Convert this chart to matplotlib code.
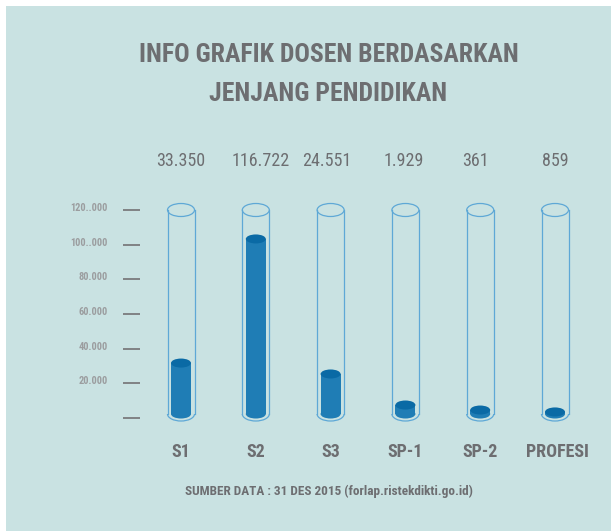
import matplotlib
matplotlib.use("Agg")
import matplotlib.pyplot as plt
from matplotlib.patches import Rectangle, Ellipse, Arc
from matplotlib.transforms import blended_transform_factory

# ---- data ----
categories = ["S1", "S2", "S3", "SP-1", "SP-2", "PROFESI"]
values = [33350, 116722, 24551, 1929, 361, 859]
# fill level of each tube as drawn in the picture
fill_levels = [31700, 103300, 25400, 7500, 4600, 3500]
tick_values = [0, 20000, 40000, 60000, 80000, 100000, 120000]
tick_labels = ["", "20.000", "40.000", "60.000", "80.000", "100..000", "120..000"]
title_lines = ["INFO GRAFIK DOSEN BERDASARKAN", "JENJANG PENDIDIKAN"]
source_text = "SUMBER DATA : 31 DES 2015 (forlap.ristekdikti.go.id)"

# ---- style ----
BG = "#c9e2e2"
GRAY = "#6d6e71"
TICKGRAY = "#9b9d9f"
TUBE = "#5ea8d6"
BODY = "#1f7db5"
TOP = "#0a6aa5"
FONT = ["Roboto Condensed", "DejaVu Sans"]
STRETCH = "condensed"

W, H = 611, 531
fig = plt.figure(figsize=(W / 100, H / 100), dpi=100)
fig.patch.set_facecolor("white")
fig.add_artist(Rectangle((6 / W, 0), 1 - 6 / W, 1 - 6 / H, transform=fig.transFigure,
                         facecolor=BG, edgecolor="none", zorder=0))

ppu = 208 / 120000.0
ymin, ymax = -15000, 135000
ybot_px = 418 + (0 - ymin) * ppu
ytop_px = 418 - ymax * ppu
xmin, xmax = -1.6, 5.75
xspace = 74.8
xl_px = 181 + xmin * xspace
xr_px = 181 + xmax * xspace
ax = fig.add_axes([xl_px / W, 1 - ybot_px / H, (xr_px - xl_px) / W, (ybot_px - ytop_px) / H])
ax.set_xlim(xmin, xmax)
ax.set_ylim(ymin, ymax)
ax.axis("off")
ax.patch.set_alpha(0)

def px_x(p):
    return p / xspace

def px_y(p):
    return p / ppu

tube_w = px_x(27)
tube_top = tick_values[-1]
tube_ell_h = px_y(13)
tube_bot = px_y(4)
tube_bot_h = px_y(14)
liq_w = px_x(20)
liq_top_h = px_y(9)
liq_bot = px_y(4)
liq_bot_h = px_y(9)

for i, (cat, lvl) in enumerate(zip(categories, fill_levels)):
    ax.plot([i - tube_w / 2, i - tube_w / 2], [tube_top, tube_bot], color=TUBE, lw=0.9, zorder=3)
    ax.plot([i + tube_w / 2, i + tube_w / 2], [tube_top, tube_bot], color=TUBE, lw=0.9, zorder=3)
    ax.add_patch(Arc((i, tube_bot), tube_w, tube_bot_h, theta1=180, theta2=360,
                     color=TUBE, lw=0.9, zorder=3))
    ax.add_patch(Ellipse((i, tube_top), tube_w, tube_ell_h, facecolor="none",
                         edgecolor=TUBE, lw=0.9, zorder=3))
    # liquid
    ax.add_patch(Rectangle((i - liq_w / 2, liq_bot), liq_w, lvl - liq_bot,
                           facecolor=BODY, edgecolor="none", zorder=2))
    ax.add_patch(Ellipse((i, liq_bot), liq_w, liq_bot_h, facecolor=BODY,
                         edgecolor="none", zorder=2))
    ax.add_patch(Ellipse((i, lvl), liq_w, liq_top_h, facecolor=TOP,
                         edgecolor="none", zorder=2.5))

for tv, tl in zip(tick_values, tick_labels):
    ax.plot([px_x(123 - 181), px_x(140 - 181)], [tv, tv], color="#808284", lw=1.4,
            solid_capstyle="butt", zorder=3)
    if tl:
        ax.text(px_x(108 - 181), tv + px_y(2), tl, ha="right", va="center",
                fontsize=7.5, fontweight="bold", color=TICKGRAY, family=FONT, stretch=STRETCH)

trans = blended_transform_factory(ax.transData, fig.transFigure)
value_dx = [0.0, 5.0, -4.0, -2.0, -5.0, 0.0]
for i, (cat, v) in enumerate(zip(categories, values)):
    lbl = f"{v:,}".replace(",", ".")
    ax.text(i + px_x(value_dx[i]), 1 - 161 / H, lbl, transform=trans, ha="center", va="center",
            fontsize=13, fontweight="normal", color=GRAY, family=FONT, stretch=STRETCH)
    ax.text(i + (px_x(2) if i == 5 else 0), 1 - 452 / H, cat, transform=trans, ha="center",
            va="center", fontsize=13, fontweight="bold", color=GRAY, family=FONT, stretch=STRETCH)

fig.text(329 / W, 1 - 55.5 / H, title_lines[0], ha="center", va="center", fontsize=18.5,
         fontweight="bold", color=GRAY, family=FONT, stretch=STRETCH)
fig.text(328 / W, 1 - 94 / H, title_lines[1], ha="center", va="center", fontsize=18.5,
         fontweight="bold", color=GRAY, family=FONT, stretch=STRETCH)
fig.text(329 / W, 1 - 491 / H, source_text, ha="center", va="center", fontsize=9.5,
         fontweight="bold", color=GRAY, family=FONT, stretch=STRETCH)

fig.savefig("out.png", dpi=100, facecolor=fig.get_facecolor())
